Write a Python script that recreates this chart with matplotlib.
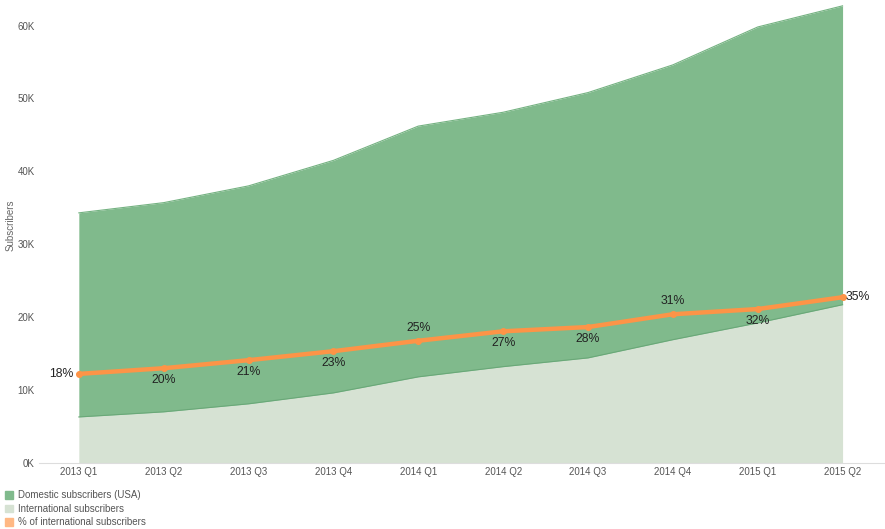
import matplotlib.pyplot as plt
from matplotlib.patches import Patch
from matplotlib.ticker import FuncFormatter

plt.rcParams['font.family'] = ['Liberation Sans', 'DejaVu Sans']

quarters = ['2013 Q1', '2013 Q2', '2013 Q3', '2013 Q4', '2014 Q1',
            '2014 Q2', '2014 Q3', '2014 Q4', '2015 Q1', '2015 Q2']
domestic = [28.0, 28.7, 29.9, 31.9, 34.4, 34.9, 36.4, 37.7, 40.6, 41.0]   # thousands
international = [6.3, 7.0, 8.1, 9.6, 11.8, 13.2, 14.4, 16.9, 19.2, 21.7]  # thousands
pct_intl = [18.4, 19.6, 21.3, 23.2, 25.4, 27.4, 28.3, 31.0, 32.1, 34.6]
# where each % label sits relative to its point
label_pos = ['left', 'below', 'below', 'below', 'above',
             'below', 'below', 'above', 'below', 'right']

green = '#80ba8c'
light = '#d6e2d3'
orange = '#fd9447'

fig = plt.figure(figsize=(8.85, 5.29), dpi=100)
ax = fig.add_axes([0.044, 0.125, 0.956, 0.875])

x = list(range(len(quarters)))
total = [d + i for d, i in zip(domestic, international)]
ax.fill_between(x, 0, international, color=light, lw=0)
ax.fill_between(x, international, total, color=green, lw=0)
ax.plot(x, international, color='#6aa878', lw=0.8)
ax.plot(x, total, color='#74b281', lw=0.8)

ax.set_xlim(-0.47, 9.5)
ax.set_ylim(0, 63.5)
ax.set_xticks(x)
ax.set_xticklabels(quarters)
ax.set_yticks([0, 10, 20, 30, 40, 50, 60])
ax.yaxis.set_major_formatter(FuncFormatter(lambda v, p: '%dK' % v))
ax.tick_params(length=0, labelsize=7, colors='#555555')
ax.tick_params(axis='x', pad=3)
ax.tick_params(axis='y', pad=3)
for s in ['top', 'right', 'left']:
    ax.spines[s].set_visible(False)
ax.spines['bottom'].set_color('#dddddd')
fig.text(0.012, 1 - 225 / 529, 'Subscribers', rotation=90, ha='center', va='center',
         fontsize=7, color='#666666')

# percentage line on its own hidden scale
ax2 = ax.twinx()
ax2.set_ylim(-0.4, 97.4)
ax2.axis('off')
ax2.plot(x, pct_intl, color=orange, lw=3.2, marker='o', ms=4, solid_capstyle='round')
for xi, p, pos in zip(x, pct_intl, label_pos):
    txt = '%d%%' % round(p)
    if pos == 'left':
        ax2.annotate(txt, (xi, p), xytext=(-4, 0), textcoords='offset points',
                     ha='right', va='center', fontsize=8.8, color='#222222')
    elif pos == 'right':
        ax2.annotate(txt, (xi, p), xytext=(2, 0), textcoords='offset points',
                     ha='left', va='center', fontsize=8.8, color='#222222')
    elif pos == 'above':
        ax2.annotate(txt, (xi, p), xytext=(0, 5), textcoords='offset points',
                     ha='center', va='bottom', fontsize=8.8, color='#222222')
    else:
        ax2.annotate(txt, (xi, p), xytext=(0, -4), textcoords='offset points',
                     ha='center', va='top', fontsize=8.8, color='#222222')

handles = [Patch(color=green, label='Domestic subscribers (USA)'),
           Patch(color=light, label='International subscribers'),
           Patch(color='#ffb884', label='% of international subscribers')]
fig.legend(handles=handles, loc='upper left', bbox_to_anchor=(0.0005, 0.082),
           frameon=False, fontsize=7, labelcolor='#555555', handlelength=0.8,
           handleheight=0.8, handletextpad=0.5, labelspacing=0.35, borderpad=0)

fig.savefig('out.png', dpi=100)
